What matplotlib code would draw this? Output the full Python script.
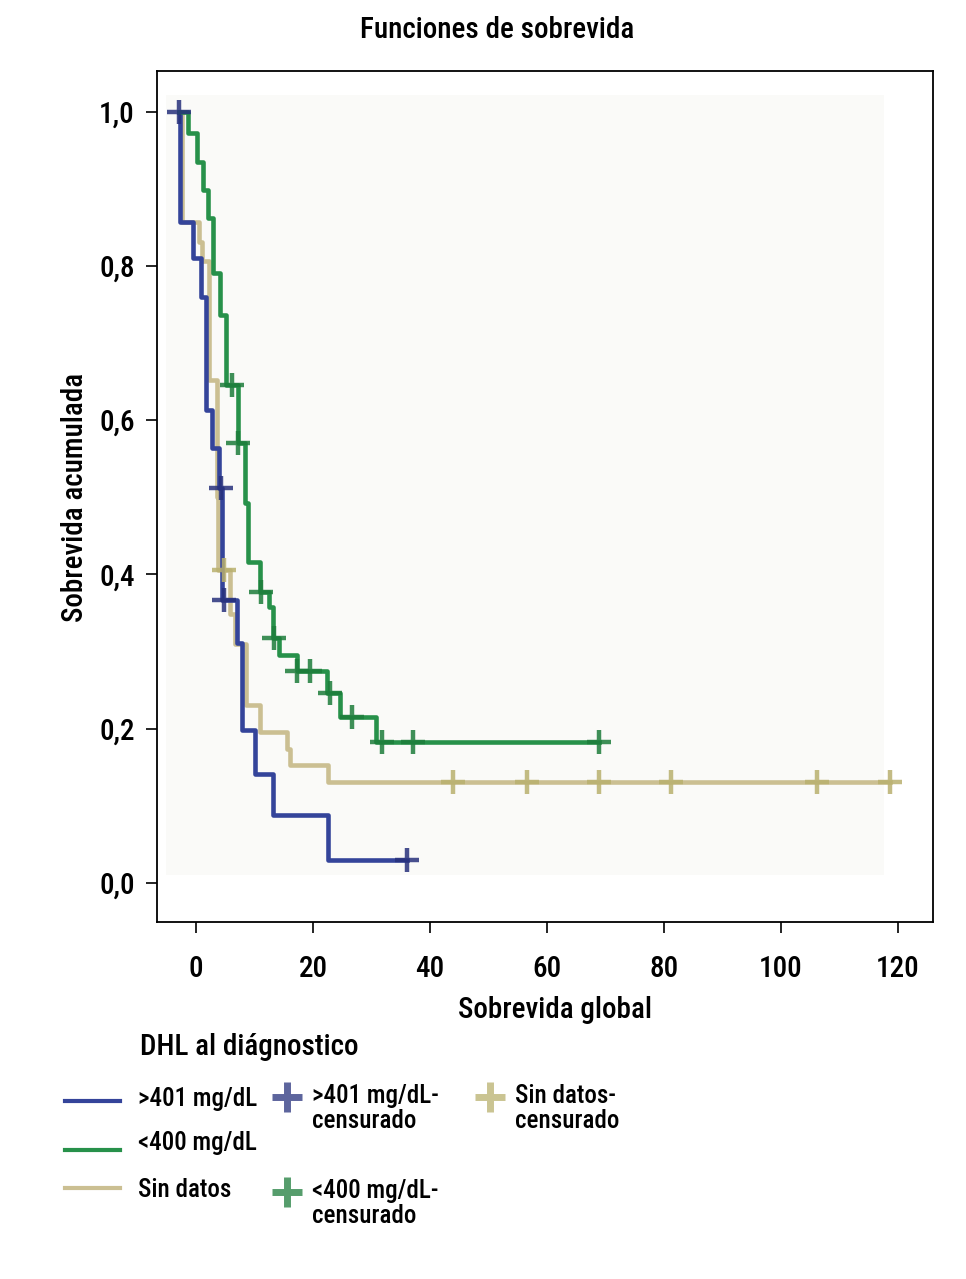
import numpy as np
import matplotlib
matplotlib.use("Agg")
import matplotlib.pyplot as plt
from matplotlib import font_manager
from matplotlib.lines import Line2D
from matplotlib.patches import Rectangle

# narrow sans font close to the Helvetica Condensed of the original
names = {f.name for f in font_manager.fontManager.ttflist}
FONT = "DejaVu Sans"
for cand in ["Roboto Condensed", "Archivo Narrow", "PT Sans Narrow", "Liberation Sans Narrow",
             "Fira Sans Condensed"]:
    if cand in names:
        FONT = cand
        break
plt.rcParams["font.family"] = [FONT, "DejaVu Sans"]
plt.rcParams["font.weight"] = 500

# Kaplan-Meier steps (time in months, cumulative survival)
blue_t = [-3.0, -2.7, -0.6, 0.8, 1.7, 2.7, 3.9, 4.4, 7.0, 7.9, 10.0, 13.1, 22.5, 36.0]
blue_s = [1.0, 0.857, 0.81, 0.76, 0.613, 0.564, 0.512, 0.367, 0.311, 0.198, 0.141, 0.088, 0.030, 0.030]
blue_cens = [-2.9, 4.2, 4.8, 36.0]

green_t = [-3.0, -1.4, 0.1, 1.2, 2.05, 2.96, 4.1, 5.1, 7.1, 8.4, 8.9, 10.9, 12.4, 13.2,
           14.1, 17.2, 22.3, 24.6, 30.8, 68.9]
green_s = [1.0, 0.973, 0.935, 0.899, 0.862, 0.791, 0.737, 0.646, 0.571, 0.493, 0.416, 0.377,
           0.358, 0.318, 0.296, 0.274, 0.246, 0.215, 0.182, 0.182]
green_cens = [6.1, 7.2, 11.0, 13.3, 17.3, 19.5, 22.8, 26.6, 31.8, 37.1, 68.9]

tan_t = [-3.0, -2.5, 0.4, 1.0, 2.2, 3.5, 3.8, 5.7, 6.7, 8.6, 10.9, 15.5, 16.1, 22.5, 118.6]
tan_s = [1.0, 0.857, 0.831, 0.806, 0.652, 0.5, 0.406, 0.348, 0.31, 0.231, 0.195, 0.173,
         0.153, 0.131, 0.131]
tan_cens = [4.8, 44.0, 56.5, 68.9, 81.2, 106.1, 118.6]

x_ticks = [0, 20, 40, 60, 80, 100, 120]
y_ticks = [0.0, 0.2, 0.4, 0.6, 0.8, 1.0]
y_labels = ["0,0", "0,2", "0,4", "0,6", "0,8", "1,0"]

BLUE, BLUE_C = "#34449a", "#27317c"
GREEN, GREEN_C = "#27914a", "#1d7d3b"
TAN, TAN_C = "#cbbf92", "#b9b06e"


def surv_at(t, s, c):
    idx = np.searchsorted(np.array(t), np.array(c), side="right") - 1
    return np.array(s)[idx]


fig = plt.figure(figsize=(9.66, 12.79), dpi=100)
ax = fig.add_axes([157 / 966, 1 - 922 / 1279, (933 - 157) / 966, (922 - 71) / 1279])

# faint plotting area
ax.add_patch(Rectangle((0.012, 0.055), 0.925, 0.917, transform=ax.transAxes,
                       facecolor="#fafaf8", edgecolor="none", zorder=0))

groups = [(tan_t, tan_s, tan_cens, TAN, TAN_C),
          (blue_t, blue_s, blue_cens, BLUE, BLUE_C),
          (green_t, green_s, green_cens, GREEN, GREEN_C)]
for t, s, c, col, ccol in groups:
    ax.step(t, s, where="post", color=col, lw=3.3, zorder=2)
    ax.plot(c, surv_at(t, s, c), linestyle="none", marker="+", ms=17, mew=3.2,
            color=ccol, alpha=0.85, zorder=3)

ax.set_xlim(-6.7, 126)
ax.set_ylim(-0.051, 1.053)
ax.set_xticks(x_ticks)
ax.set_xticklabels([str(v) for v in x_ticks])
ax.set_yticks(y_ticks)
ax.set_yticklabels(y_labels)
ax.tick_params(axis="both", length=8, width=1.2, labelsize=21, colors="black")
ax.tick_params(axis="x", pad=16)
ax.tick_params(axis="y", pad=8)
for sp in ax.spines.values():
    sp.set_linewidth(1.3)

fs = 21
fig.text(497 / 966, 1 - 30 / 1279, "Funciones de sobrevida", ha="center", va="center", fontsize=fs)
fig.text(75 / 966, 1 - 497 / 1279, "Sobrevida acumulada", ha="center", va="center",
         rotation=90, fontsize=fs)
fig.text(555 / 966, 1 - 1010 / 1279, "Sobrevida global", ha="center", va="center", fontsize=fs)


# legend drawn by hand
def fx(px):
    return px / 966


def fy(py):
    return 1 - py / 1279


fig.text(fx(140), fy(1047), "DHL al diágnostico", ha="left", va="center", fontsize=fs)
lfs = 18
for py, col, lab, ly in [(1101, BLUE, ">401 mg/dL", 1099),
                         (1150, GREEN, "<400 mg/dL", 1143),
                         (1188, TAN, "Sin datos", 1190)]:
    fig.add_artist(Line2D([fx(65), fx(120)], [fy(py), fy(py)], color=col, lw=3.0))
    fig.text(fx(138), fy(ly), lab, ha="left", va="center", fontsize=lfs)

for mx, my, col, lab in [(287, 1097, BLUE_C, ">401 mg/dL-\ncensurado"),
                         (287, 1192, GREEN_C, "<400 mg/dL-\ncensurado"),
                         (490, 1097, TAN_C, "Sin datos-\ncensurado")]:
    fig.add_artist(Line2D([fx(mx)], [fy(my)], marker="+", ms=22, mew=5,
                          color=col, alpha=0.75, linestyle="none"))
    fig.text(fx(mx + 25), fy(my - 13), lab, ha="left", va="top", fontsize=lfs,
             linespacing=1.05)

fig.savefig("out.png", dpi=100)
